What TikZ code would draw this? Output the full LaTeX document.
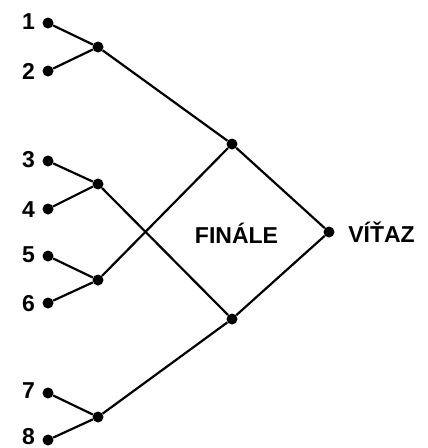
\documentclass[tikz,border=0pt]{standalone}
\usepackage{fontspec}
\setmainfont{Liberation Sans}
\begin{document}
\begin{tikzpicture}[x=1pt,y=-1pt,
  dot/.style={circle,fill=black,inner sep=0pt,minimum size=11pt},
  lbl/.style={font=\bfseries\fontsize{23}{23}\selectfont,inner sep=0pt},
  wire/.style={line width=2.2pt}]
\useasboundingbox[fill=white] (0,0) rectangle (428,448);
% leaves
\node[dot] (p1) at (48,23) {};
\node[dot] (p2) at (48,71) {};
\node[dot] (p3) at (48,161) {};
\node[dot] (p4) at (48,209) {};
\node[dot] (p5) at (48,256) {};
\node[dot] (p6) at (48,303) {};
\node[dot] (p7) at (48,393) {};
\node[dot] (p8) at (48,440) {};
% junctions
\node[dot] (j12) at (98,47) {};
\node[dot] (j34) at (98,184) {};
\node[dot] (j56) at (98,280) {};
\node[dot] (j78) at (98,417) {};
\node[dot] (top) at (232,144) {};
\node[dot] (bot) at (232,319) {};
\node[dot] (win) at (329,232) {};
% labels
\node[lbl] (l1) at (28.5,22) {1};
\node[lbl] (l2) at (28.5,71) {2};
\node[lbl] (l3) at (28.5,160) {3};
\node[lbl] (l4) at (28.5,210) {4};
\node[lbl] (l5) at (28.5,255) {5};
\node[lbl] (l6) at (28.5,304) {6};
\node[lbl] (l7) at (28.5,391) {7};
\node[lbl] (l8) at (28.5,437) {8};
\node[lbl] (fin) at (236.5,233) {FINÁLE};
\node[lbl] (vit) at (381.5,232) {VÍŤAZ};
% wires
\draw[wire] (p1) -- (j12) -- (p2);
\draw[wire] (p3) -- (j34) -- (p4);
\draw[wire] (p5) -- (j56) -- (p6);
\draw[wire] (p7) -- (j78) -- (p8);
\draw[wire] (j12) -- (top);
\draw[wire] (j56) -- (top);
\draw[wire] (j34) -- (bot);
\draw[wire] (j78) -- (bot);
\draw[wire] (top) -- (win) -- (bot);
\end{tikzpicture}
\end{document}
